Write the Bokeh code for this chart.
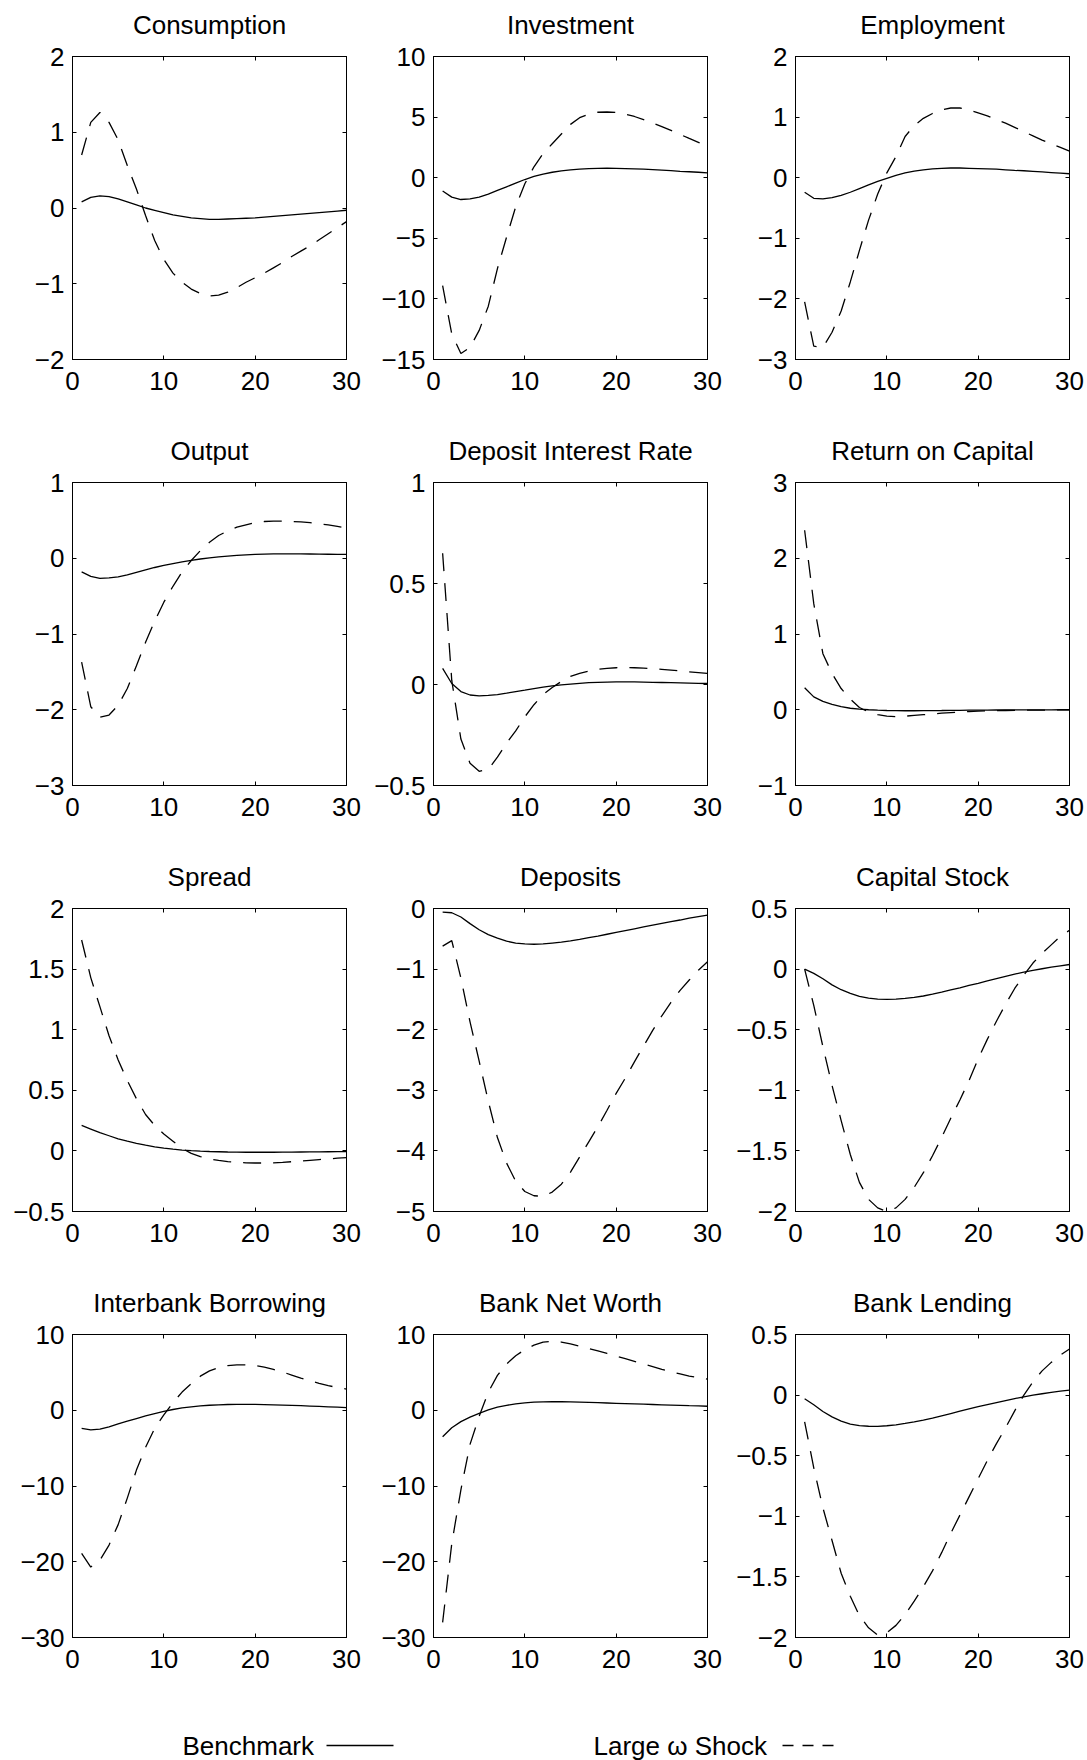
from bokeh.plotting import figure
from bokeh.layouts import column, row
from bokeh.models import Range1d, FixedTicker, LinearAxis, CustomJSTickFormatter
from bokeh.embed import file_html
from bokeh.resources import INLINE
from bokeh.core.properties import value

# Quarters after the shock
t = list(range(1, 31))
x_ticks = [0, 10, 20, 30]

titles = ["Consumption", "Investment", "Employment",
          "Output", "Deposit Interest Rate", "Return on Capital",
          "Spread", "Deposits", "Capital Stock",
          "Interbank Borrowing", "Bank Net Worth", "Bank Lending"]

y_ticks = [
    [-2, -1, 0, 1, 2],
    [-15, -10, -5, 0, 5, 10],
    [-3, -2, -1, 0, 1, 2],
    [-3, -2, -1, 0, 1],
    [-0.5, 0, 0.5, 1],
    [-1, 0, 1, 2, 3],
    [-0.5, 0, 0.5, 1, 1.5, 2],
    [-5, -4, -3, -2, -1, 0],
    [-2, -1.5, -1, -0.5, 0, 0.5],
    [-30, -20, -10, 0, 10],
    [-30, -20, -10, 0, 10],
    [-2, -1.5, -1, -0.5, 0, 0.5],
]

# Benchmark responses
consumption_bench = [0.08, 0.14, 0.16, 0.15, 0.12, 0.08, 0.04, 0.00, -0.03, -0.06,
                     -0.09, -0.11, -0.13, -0.14, -0.15, -0.15, -0.145, -0.14, -0.135, -0.13,
                     -0.12, -0.11, -0.10, -0.09, -0.08, -0.07, -0.06, -0.05, -0.04, -0.03]
investment_bench = [-1.1, -1.6, -1.8, -1.75, -1.6, -1.35, -1.05, -0.75, -0.45, -0.15,
                    0.1, 0.3, 0.45, 0.57, 0.65, 0.71, 0.75, 0.77, 0.78, 0.77,
                    0.75, 0.73, 0.7, 0.66, 0.62, 0.58, 0.53, 0.49, 0.45, 0.4]
employment_bench = [-0.24, -0.34, -0.35, -0.33, -0.29, -0.24, -0.18, -0.12, -0.06, -0.01,
                    0.04, 0.08, 0.11, 0.13, 0.145, 0.155, 0.16, 0.16, 0.155, 0.15,
                    0.145, 0.14, 0.13, 0.12, 0.115, 0.105, 0.095, 0.085, 0.075, 0.065]
output_bench = [-0.18, -0.24, -0.265, -0.26, -0.245, -0.22, -0.185, -0.152, -0.122, -0.095,
                -0.07, -0.048, -0.028, -0.01, 0.005, 0.018, 0.028, 0.037, 0.044, 0.05,
                0.054, 0.057, 0.058, 0.058, 0.057, 0.056, 0.055, 0.053, 0.051, 0.05]
deposit_rate_bench = [0.08, 0.005, -0.035, -0.052, -0.056, -0.054, -0.05, -0.043, -0.035, -0.028,
                      -0.02, -0.013, -0.007, -0.002, 0.002, 0.006, 0.009, 0.011, 0.012, 0.013,
                      0.013, 0.013, 0.012, 0.011, 0.01, 0.009, 0.008, 0.007, 0.006, 0.005]
return_capital_bench = [0.29, 0.17, 0.11, 0.07, 0.04, 0.02, 0.008, 0.0, -0.006, -0.01,
                        -0.012, -0.013, -0.013, -0.012, -0.011, -0.01, -0.008, -0.007, -0.006, -0.005,
                        -0.004, -0.003, -0.003, -0.002, -0.002, -0.001, -0.001, -0.001, 0.0, 0.0]
spread_bench = [0.21, 0.18, 0.15, 0.125, 0.1, 0.08, 0.062, 0.047, 0.034, 0.023,
                0.014, 0.007, 0.002, -0.002, -0.005, -0.007, -0.009, -0.01, -0.011, -0.011,
                -0.011, -0.011, -0.01, -0.01, -0.009, -0.008, -0.008, -0.007, -0.006, -0.006]
deposits_bench = [-0.06, -0.07, -0.14, -0.25, -0.35, -0.43, -0.49, -0.54, -0.57, -0.585,
                  -0.59, -0.585, -0.57, -0.555, -0.535, -0.51, -0.48, -0.455, -0.425, -0.395,
                  -0.365, -0.335, -0.305, -0.275, -0.245, -0.215, -0.19, -0.16, -0.135, -0.11]
capital_bench = [0.0, -0.035, -0.08, -0.13, -0.17, -0.2, -0.225, -0.24, -0.247, -0.25,
                 -0.248, -0.242, -0.234, -0.222, -0.207, -0.19, -0.172, -0.154, -0.135, -0.117,
                 -0.098, -0.079, -0.06, -0.042, -0.025, -0.01, 0.003, 0.016, 0.027, 0.038]
interbank_bench = [-2.4, -2.6, -2.5, -2.2, -1.8, -1.45, -1.1, -0.75, -0.45, -0.15,
                   0.1, 0.3, 0.45, 0.57, 0.66, 0.72, 0.76, 0.78, 0.78, 0.77,
                   0.75, 0.72, 0.68, 0.64, 0.6, 0.55, 0.5, 0.45, 0.4, 0.35]
net_worth_bench = [-3.5, -2.3, -1.5, -0.9, -0.4, 0.05, 0.4, 0.65, 0.85, 0.98,
                   1.06, 1.1, 1.12, 1.12, 1.1, 1.07, 1.04, 1.0, 0.96, 0.92,
                   0.88, 0.84, 0.8, 0.76, 0.72, 0.68, 0.64, 0.6, 0.57, 0.53]
lending_bench = [-0.03, -0.08, -0.135, -0.18, -0.215, -0.24, -0.252, -0.257, -0.258, -0.253,
                 -0.245, -0.234, -0.221, -0.206, -0.19, -0.171, -0.152, -0.133, -0.114, -0.096,
                 -0.079, -0.062, -0.045, -0.029, -0.014, -0.001, 0.011, 0.022, 0.032, 0.041]

# Responses to the large omega shock
consumption_shock = [0.70, 1.13, 1.26, 1.13, 0.90, 0.56, 0.25, -0.10, -0.43, -0.68,
                     -0.86, -0.98, -1.07, -1.13, -1.16, -1.15, -1.11, -1.05, -0.98, -0.92,
                     -0.86, -0.79, -0.72, -0.64, -0.57, -0.50, -0.42, -0.34, -0.26, -0.18]
investment_shock = [-8.9, -12.9, -14.5, -14.0, -12.6, -10.6, -7.5, -4.9, -2.4, -0.5,
                    0.9, 2.0, 2.8, 3.6, 4.4, 4.95, 5.25, 5.4, 5.42, 5.38,
                    5.25, 5.05, 4.8, 4.52, 4.22, 3.9, 3.57, 3.24, 2.92, 2.6]
employment_shock = [-2.05, -2.78, -2.8, -2.55, -2.2, -1.72, -1.2, -0.7, -0.27, 0.08,
                    0.35, 0.68, 0.86, 0.98, 1.06, 1.12, 1.15, 1.15, 1.12, 1.07,
                    1.02, 0.96, 0.9, 0.83, 0.76, 0.69, 0.62, 0.56, 0.5, 0.44]
output_shock = [-1.37, -1.96, -2.1, -2.07, -1.94, -1.72, -1.42, -1.11, -0.83, -0.58,
                -0.37, -0.18, -0.03, 0.1, 0.21, 0.3, 0.36, 0.41, 0.44, 0.47,
                0.485, 0.49, 0.49, 0.485, 0.48, 0.47, 0.455, 0.44, 0.42, 0.40]
deposit_rate_shock = [0.65, 0.02, -0.27, -0.39, -0.43, -0.42, -0.36, -0.29, -0.23, -0.16,
                      -0.1, -0.05, -0.015, 0.015, 0.04, 0.055, 0.067, 0.075, 0.08, 0.083,
                      0.084, 0.083, 0.081, 0.079, 0.075, 0.071, 0.067, 0.063, 0.059, 0.055]
return_capital_shock = [2.37, 1.4, 0.74, 0.48, 0.28, 0.14, 0.03, -0.03, -0.065, -0.085,
                        -0.09, -0.085, -0.075, -0.065, -0.055, -0.045, -0.037, -0.03, -0.024, -0.019,
                        -0.015, -0.012, -0.01, -0.008, -0.006, -0.005, -0.004, -0.003, -0.002, -0.002]
spread_shock = [1.74, 1.43, 1.19, 0.95, 0.75, 0.58, 0.43, 0.3, 0.21, 0.14,
                0.08, 0.02, -0.02, -0.047, -0.066, -0.079, -0.088, -0.094, -0.098, -0.1,
                -0.1, -0.098, -0.094, -0.089, -0.084, -0.078, -0.072, -0.066, -0.06, -0.055]
deposits_shock = [-0.62, -0.53, -1.15, -1.87, -2.52, -3.18, -3.78, -4.2, -4.5, -4.67,
                  -4.74, -4.75, -4.68, -4.55, -4.35, -4.1, -3.85, -3.6, -3.33, -3.05,
                  -2.8, -2.53, -2.27, -2.01, -1.77, -1.55, -1.35, -1.18, -1.02, -0.88]
capital_shock = [0.0, -0.3, -0.64, -0.96, -1.25, -1.53, -1.76, -1.9, -1.97, -2.0,
                 -1.97, -1.9, -1.8, -1.68, -1.54, -1.39, -1.23, -1.08, -0.92, -0.74,
                 -0.58, -0.43, -0.29, -0.16, -0.05, 0.05, 0.13, 0.2, 0.27, 0.32]
interbank_shock = [-18.9, -20.7, -19.8, -17.8, -15.1, -11.6, -7.9, -4.9, -2.4, -0.6,
                   1.0, 2.4, 3.5, 4.5, 5.2, 5.65, 5.9, 6.0, 5.98, 5.9,
                   5.7, 5.4, 5.05, 4.65, 4.25, 3.9, 3.55, 3.25, 3.0, 2.8]
net_worth_shock = [-28.0, -17.6, -10.5, -4.5, -0.8, 2.4, 4.6, 6.1, 7.2, 8.0,
                   8.6, 9.0, 9.1, 9.0, 8.75, 8.45, 8.15, 7.85, 7.5, 7.15,
                   6.8, 6.45, 6.1, 5.75, 5.4, 5.1, 4.8, 4.5, 4.3, 4.1]
lending_shock = [-0.22, -0.6, -0.93, -1.2, -1.47, -1.66, -1.82, -1.92, -1.98, -1.96,
                 -1.9, -1.81, -1.7, -1.58, -1.45, -1.3, -1.14, -0.99, -0.84, -0.69,
                 -0.54, -0.4, -0.27, -0.13, 0.0, 0.11, 0.2, 0.27, 0.33, 0.38]

benchmark = [consumption_bench, investment_bench, employment_bench,
             output_bench, deposit_rate_bench, return_capital_bench,
             spread_bench, deposits_bench, capital_bench,
             interbank_bench, net_worth_bench, lending_bench]
shock = [consumption_shock, investment_shock, employment_shock,
         output_shock, deposit_rate_shock, return_capital_shock,
         spread_shock, deposits_shock, capital_shock,
         interbank_shock, net_worth_shock, lending_shock]

FONT = "Liberation Sans"
DASH = "18 12"
FRAME_W, FRAME_H = 274, 303
ROW_H = 426
TOP = 56
col_widths = [362, 362, 363]
col_left = [72, 71, 71]

minus_fmt = CustomJSTickFormatter(code="return tick.toString().replace('-', '\\u2212');")
blank_fmt = CustomJSTickFormatter(code="return '';")


def style_axis(ax, show_labels=True):
    ax.axis_line_color = "black"
    ax.major_tick_line_color = "black"
    ax.major_tick_in = 4
    ax.major_tick_out = 0
    ax.minor_tick_line_color = None
    ax.major_label_text_font = FONT
    ax.major_label_text_color = "black"
    if show_labels:
        ax.major_label_text_font_size = "26px"
        ax.formatter = minus_fmt
    else:
        ax.formatter = blank_fmt
        ax.major_label_text_font_size = "1px"
        ax.major_label_standoff = 0


def make_panel(i):
    c = i % 3
    w = col_widths[c]
    yt = y_ticks[i]
    p = figure(width=w, height=ROW_H,
               x_range=Range1d(0, 30), y_range=Range1d(yt[0], yt[-1]),
               output_backend="svg", toolbar_location=None,
               min_border_left=col_left[c], min_border_right=w - col_left[c] - FRAME_W,
               min_border_top=TOP, min_border_bottom=ROW_H - TOP - FRAME_H)
    p.grid.visible = False
    p.outline_line_color = "black"
    p.outline_line_width = 1
    p.background_fill_color = "white"
    p.border_fill_color = "white"

    p.xaxis.ticker = FixedTicker(ticks=x_ticks)
    p.yaxis.ticker = FixedTicker(ticks=yt)
    style_axis(p.xaxis[0])
    style_axis(p.yaxis[0])
    p.xaxis.major_label_standoff = 12
    p.yaxis.major_label_standoff = 8

    # top axis: inward ticks along the upper edge, carrying the panel title
    top = LinearAxis(ticker=FixedTicker(ticks=x_ticks), axis_label=titles[i])
    style_axis(top, show_labels=False)
    top.axis_label_text_font = FONT
    top.axis_label_text_font_size = "26px"
    top.axis_label_text_font_style = "normal"
    top.axis_label_text_color = "black"
    top.axis_label_standoff = 17
    p.add_layout(top, "above")

    right = LinearAxis(ticker=FixedTicker(ticks=yt))
    style_axis(right, show_labels=False)
    p.add_layout(right, "right")

    p.line(t, benchmark[i], line_color="black", line_width=1.3)
    p.line(t, shock[i], line_color="black", line_width=1.3, line_dash=DASH)
    return p


panels = [make_panel(i) for i in range(12)]
rows = [row(*panels[r * 3:(r + 1) * 3]) for r in range(4)]

# Key drawn beneath the grid of panels
key = figure(width=1087, height=56, x_range=Range1d(0, 1087), y_range=Range1d(0, 56),
             output_backend="svg", toolbar_location=None,
             x_axis_type=None, y_axis_type=None, min_border=0)
key.grid.visible = False
key.outline_line_color = None
key.text(x=[182, 593], y=[15, 15], text=["Benchmark", "Large \u03c9 Shock"],
         text_font=value(FONT), text_font_size="26px", text_color="black",
         text_baseline="middle", text_align="left")
key.line([326, 393], [15, 15], line_color="black", line_width=1.3)
key.line([782, 842], [15, 15], line_color="black", line_width=1.3, line_dash="11 9")

layout = column(*rows, key)

with open("out.html", "w") as f:
    f.write(file_html(layout, INLINE))
